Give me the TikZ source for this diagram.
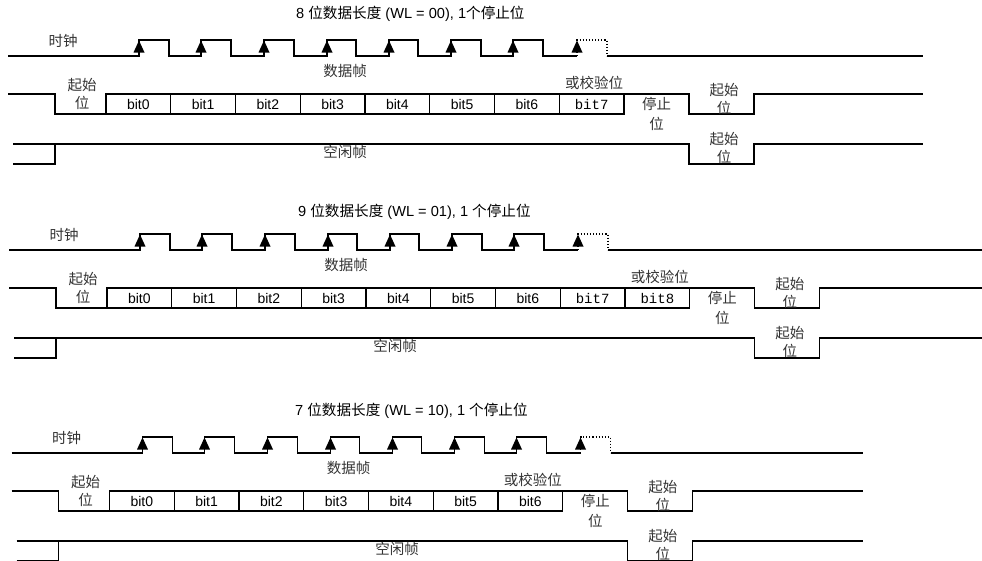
\documentclass[tikz,border=0pt]{standalone}
\usepackage{fontspec}
\setmainfont{Liberation Sans}
\newfontfamily\cjk{Noto Sans CJK SC}
\newfontfamily\monof{Liberation Mono}
\tikzset{
  wave/.style={line width=1.2pt, line join=miter},
  lbl/.style={inner sep=0pt, font=\fontsize{14}{16}\selectfont},
  monolbl/.style={inner sep=0pt, font=\fontsize{14}{16}\selectfont\monof},
  cn/.style={inner sep=0pt, font=\fontsize{14.5}{16}\selectfont\cjk, text=black!80},
  ttl/.style={inner sep=0pt, anchor=west, font=\fontsize{14.6}{16}\selectfont},
}
% #1 shift x, #2 shift y, #3 number of bits, #4 right end, #5 idle label x, #6 prefix, #7 first mono bit
\newcommand\uartpanel[7]{%
\begin{scope}[shift={(#1,#2)}]
  \pgfmathsetmacro\Eb{106+64.75*#3}
  \pgfmathsetmacro\Sa{\Eb+65}
  \pgfmathsetmacro\Sb{\Eb+130}
  \pgfmathtruncatemacro\nlast{#3-1}
  % clock
  \node[cn] (#6clk) at (63,41) {时钟};
  \draw[wave] (8,56) -| (139,40) -| (169,56) -| (201,40) -| (231,56) -| (264,40) -| (294,56)
     -| (327,40) -| (356,56) -| (389,40) -| (418,56) -| (451,40) -| (481,56) -| (513,40) -| (543,56) -- (577,56);
  \draw[line width=1.1pt, dotted] (577,56) -- (577,40) -- (607,40) -- (607,56);
  \draw[wave] (607,56) -- (#4,56);
  \foreach \r in {139,201,264,327,389,451,513,577}
    \fill (\r,40.5) -- ++(-5.5,12) -- ++(11,0) -- cycle;
  % data frame
  \node[cn] (#6dat) at (345,71) {数据帧};
  \draw[wave] (8,94) -- (55,94) -- (55,114) -- (106,114);
  \foreach \i in {0,...,\nlast}{
    \pgfmathsetmacro\xa{106+64.75*\i}
    \pgfmathsetmacro\xb{\xa+64.75}
    \draw[wave] (\xa,94) rectangle (\xb,114);
    \ifnum\i<#7\relax
      \node[lbl] (#6b\i) at ({(\xa+\xb)/2},104.5) {bit\i};
    \else
      \node[monolbl] (#6b\i) at ({(\xa+\xb)/2},104.5) {bit\i};
    \fi
  }
  \draw[wave] (\Eb,94) -- (\Sa,94) -- (\Sa,114) -- (\Sb,114) -- (\Sb,94) -- (#4,94);
  \node[cn] (#6sa) at (82,85) {起始};
  \node[cn] (#6sb) at (82,103) {位};
  \node[cn] (#6par) at ({\Eb-30},83) {或校验位};
  \node[cn] (#6sta) at ({\Eb+32.5},104) {停止};
  \node[cn] (#6stb) at ({\Eb+32.5},124) {位};
  \node[cn] (#6na) at ({\Sa+35},90) {起始};
  \node[cn] (#6nb) at ({\Sa+35},108) {位};
  % idle frame
  \draw[wave] (13,164) -- (55,164) -- (55,144);
  \draw[wave] (13,144) -- (\Sa,144) -- (\Sa,164) -- (\Sb,164) -- (\Sb,144) -- (#4,144);
  \node[cn] (#6idle) at (#5,152) {空闲帧};
  \node[cn] (#6ia) at ({\Sa+35},139.5) {起始};
  \node[cn] (#6ib) at ({\Sa+35},157) {位};
\end{scope}}
\begin{document}
\begin{tikzpicture}[x=1pt,y=-1pt]
\useasboundingbox (0,0) rectangle (982,560);
\node[ttl] (t1) at (296,14) {8 {\cjk 位数据长度} (WL = 00), 1{\cjk 个停止位}};
\node[ttl] (t2) at (298,212) {9 {\cjk 位数据长度} (WL = 01), 1 {\cjk 个停止位}};
\node[ttl] (t3) at (295,411) {7 {\cjk 位数据长度} (WL = 10), 1 {\cjk 个停止位}};
\uartpanel{0}{0}{8}{923}{345}{p}{7}
\uartpanel{1}{194}{9}{981}{394}{q}{7}
\uartpanel{3.5}{397}{7}{859.5}{393.5}{r}{99}
\end{tikzpicture}
\end{document}
